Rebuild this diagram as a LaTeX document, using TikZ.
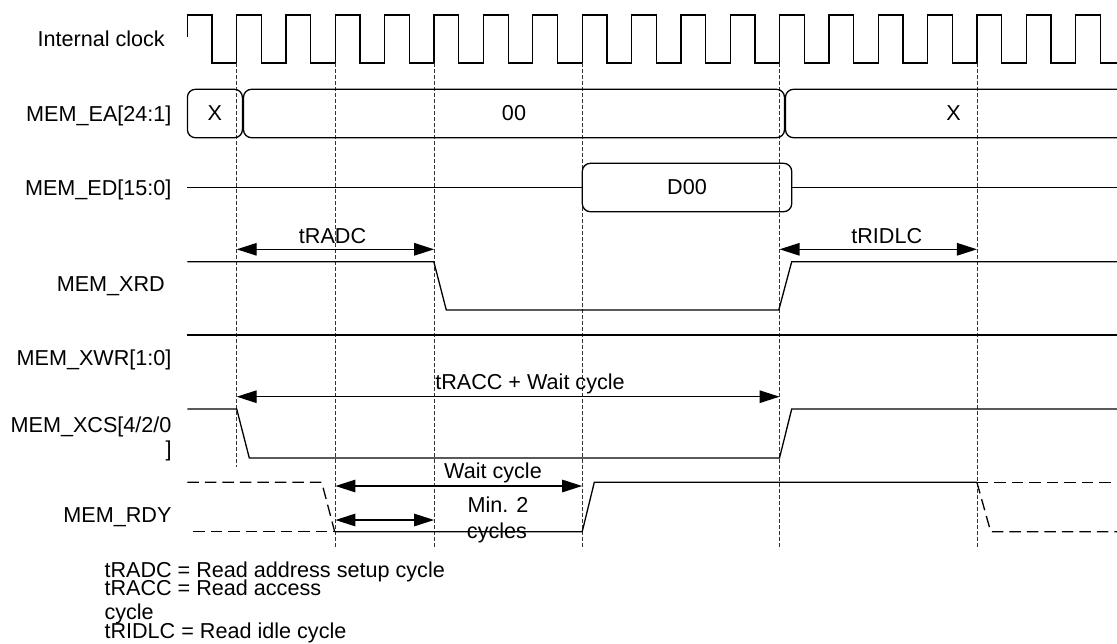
\documentclass[tikz,border=0pt]{standalone}
\usepackage{fontspec}
\setmainfont{Liberation Sans}
\usetikzlibrary{arrows.meta}

\begin{document}
\begin{tikzpicture}[x=1pt, y=-1pt,
    every node/.style={font=\fontsize{21.6}{24}\selectfont, inner sep=0pt},
    sig/.style={line width=1.3pt},
    rdyd/.style={line width=1.3pt, dash pattern=on 11.5pt off 6pt},
    guide/.style={line width=0.8pt, black!80, dash pattern=on 3.5pt off 2.5pt},
    bus/.style={draw, line width=1.3pt, rounded corners=8pt, minimum height=48.4pt},
    dim/.style={line width=1.3pt, {Triangle[length=20pt,width=12.5pt]}-{Triangle[length=20pt,width=12.5pt]}},
    lbl/.style={anchor=base east}]

    \useasboundingbox (0,0) rectangle (1117,643);

    % Clock timing
    \def\xs{187.35}
    \def\per{49.35}
    \def\hi{24.7}
    \def\lo{24.65}

    % Signal names
    \node[lbl] (clkname) at (165,46.7) {Internal clock};
    \node[lbl] (eaname) at (171.7,121.7) {MEM\_EA[24:1]};
    \node[lbl] (edname) at (171.7,195.5) {MEM\_ED[15:0]};
    \node[lbl] (xrdname) at (165,291.7) {MEM\_XRD};
    \node[lbl] (xwrname) at (171.7,365.7) {MEM\_XWR[1:0]};
    \node[lbl] (xcsname) at (171.7,432) {MEM\_XCS[4/2/0};
    \node[lbl] (xcsclose) at (171.7,456) {]};
    \node[lbl] (rdyname) at (171.7,522.7) {MEM\_RDY};

    % Internal clock
    \draw[sig] (\xs,37) -- (\xs,15)
        \foreach \k in {0,...,17} { -- ++(\hi,0) -- ++(0,48) -- ++(\lo,0) -- ++(0,-48) }
        -- ++(\hi,0) -- ++(0,48) -- (1117,63);

    % Guide lines on rising edges
    \foreach \k/\n/\yb in {1/e1/467, 3/e3/548, 5/e5/548, 8/e8/548, 12/e12/548, 16/e16/548} {
        \coordinate (\n) at ({\xs+\k*\per},63);
        \draw[guide] (\n) -- (\n |- 0,\yb);
    }

    % MEM_EA
    \node[bus, minimum width=55pt] (ea0) at (214.9,113.5) {X};
    \node[bus, minimum width=541pt] (ea1) at (514,113.5) {00};
    \draw[sig, rounded corners=8pt] (1117,89.3) -- (785.5,89.3) -- (785.5,137.7) -- (1117,137.7);
    \node (ea2) at (953.5,113.5) {X};

    % MEM_ED
    \node[bus, minimum width=209.4pt] (ed1) at (687,187.5) {D00};
    \draw[sig] (\xs,187.5) -- (ed1.west);
    \draw[sig] (ed1.east) -- (1117,187.5);

    % MEM_XRD, MEM_XWR, MEM_XCS
    \draw[sig] (\xs,261.7) -- (433.8,261.7) -- (446.3,310) -- (778.8,310) -- (791.7,261.7) -- (1117,261.7);
    \draw[sig] (\xs,335) -- (1117,335);
    \draw[sig] (\xs,409) -- (236.7,409) -- (249.3,458) -- (779.5,458) -- (791.7,409) -- (1117,409);

    % MEM_RDY
    \draw[rdyd] (\xs,482.3) -- (321.7,482.3) -- (334.7,531.7);
    \draw[rdyd] (193.3,531.7) -- (334.7,531.7);
    \draw[sig] (334.7,531.7) -- (582.2,531.7) -- (594.3,482.3) -- (976.9,482.3);
    \draw[rdyd] (976.9,482.3) -- (990.7,531.7) -- (1117,531.7);
    \draw[rdyd] (976.9,482.3) -- (1117,482.3);

    % Timing arrows
    \draw[dim] (e1 |- 0,249.3) -- (e5 |- 0,249.3);
    \node[anchor=base] (radc) at (332.5,243) {tRADC};
    \draw[dim] (e12 |- 0,249.3) -- (e16 |- 0,249.3);
    \node[anchor=base] (ridlc) at (886.7,243) {tRIDLC};
    \draw[dim] (e1 |- 0,396.7) -- (e12 |- 0,396.7);
    \node[anchor=base] (racc) at (530,389.5) {tRACC + Wait cycle};
    \draw[dim] (e3 |- 0,486) -- (e8 |- 0,486);
    \node[anchor=base] (wait) at (493,478.5) {Wait cycle};
    \draw[dim] (e3 |- 0,520) -- (e5 |- 0,520);
    \node[anchor=base] (min2) at (498,512.5) {Min. 2};
    \node[anchor=base] (min2b) at (497,538) {cycles};

    % Notes
    \node[anchor=base west] (note1) at (104.3,577) {tRADC = Read address setup cycle};
    \node[anchor=base west] (note2) at (104.3,595) {tRACC = Read access};
    \node[anchor=base west] (note3) at (104.3,619.5) {cycle};
    \node[anchor=base west] (note4) at (104.3,638.5) {tRIDLC = Read idle cycle};

\end{tikzpicture}
\end{document}
